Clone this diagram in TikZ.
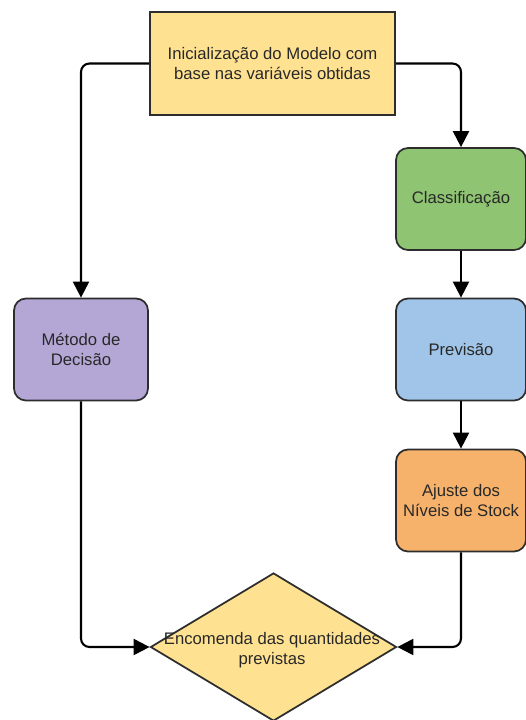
\documentclass[tikz,border=0pt]{standalone}
\usepackage{fontspec}
\setmainfont{Liberation Sans}
\usepackage{tikz}
\usepackage{xcolor}
\usetikzlibrary{arrows.meta, shapes.geometric, calc, positioning}

\definecolor{inityellow}{RGB}{255,226,145}
\definecolor{classgreen}{RGB}{143,196,115}
\definecolor{prevblue}{RGB}{160,197,232}
\definecolor{ajusteorange}{RGB}{246,178,107}
\definecolor{metodopurple}{RGB}{180,167,214}
\definecolor{borderdark}{RGB}{45,45,45}
\definecolor{textdark}{RGB}{40,40,40}

\begin{document}
\begin{tikzpicture}[
                    every node/.style={font=\fontsize{9.5}{11.5}\selectfont, text=textdark, align=center},
                    stepbox/.style={draw=borderdark, line width=1pt, rounded corners=0.24cm, minimum width=2.6cm, minimum height=2.04cm},
                    flow/.style={-{Triangle[length=0.32cm, width=0.32cm]}, line width=1.2pt, rounded corners=0.17cm}
                ]
                    \useasboundingbox (0, 0) rectangle (10.52, -14.4);

                    \node[draw=borderdark, line width=1pt, fill=inityellow, minimum width=4.9cm, minimum height=2.06cm] (init) at (5.45, -1.27) {Inicialização do Modelo com\\ base nas variáveis obtidas};

                    \node[stepbox, fill=classgreen] (classif) at (9.22, -3.98) {Classificação};
                    \node[stepbox, fill=prevblue] (prev) at (9.22, -6.99) {Previsão};
                    \node[stepbox, fill=ajusteorange] (ajuste) at (9.22, -10.01) {Ajuste dos\\ Níveis de Stock};
                    \node[stepbox, fill=metodopurple, minimum width=2.68cm] (metodo) at (1.62, -6.99) {Método de\\ Decisão};

                    \node[diamond, draw=borderdark, line width=1pt, fill=inityellow, minimum width=4.92cm, minimum height=2.96cm, inner sep=0pt] (order) at (5.47, -12.94) {};
                    \node[] (ordertext) at (5.44, -13.0) {Encomenda das quantidades\\ previstas};

                    \draw[flow]
                    (init.west) -| (metodo.north);
                    \draw[flow]
                    (init.east) -| (classif.north);
                    \draw[flow]
                    (classif.south) -- (prev.north);
                    \draw[flow]
                    (prev.south) -- (ajuste.north);
                    \draw[flow]
                    (metodo.south) |- (order.west);
                    \draw[flow]
                    (ajuste.south) |- (order.east);
                \end{tikzpicture}
\end{document}
